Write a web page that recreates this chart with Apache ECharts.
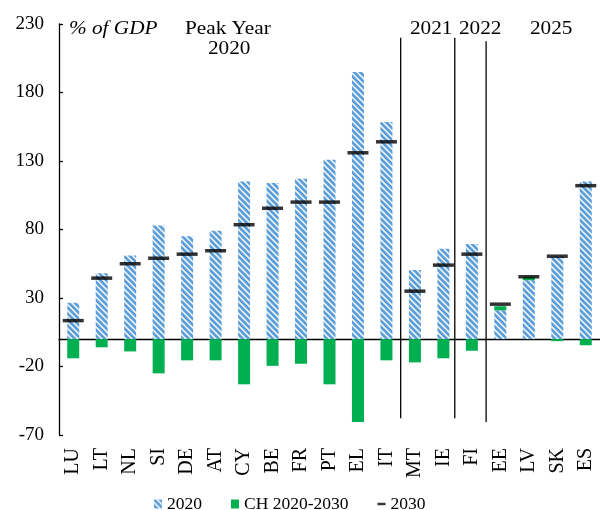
<!DOCTYPE html>
<html>
<head>
  <meta charset="utf-8" />
  <script src="https://cdn.jsdelivr.net/npm/echarts@6/dist/echarts.min.js"></script>
  <style>
    html, body { margin: 0; width: 100%; height: 100%; background: #fff; }
    #chart { width: 600px; height: 510px; }
  </style>
</head>
<body>
<div id="chart"></div>
<script>
  // countries, grouped by peak year
  var countries = ['LU', 'LT', 'NL', 'SI', 'DE', 'AT', 'CY', 'BE', 'FR', 'PT', 'EL', 'IT', 'MT', 'IE', 'FI', 'EE', 'LV', 'SK', 'ES']
  var peak2020 = [26.5, 48, 61, 83, 75, 79, 115, 114, 117, 131, 195, 158.5, 50.5, 66, 69.5, 21, 43, 60.5, 115]
  var change = [-14, -6, -9, -25, -15.5, -15.5, -33, -19.5, -18, -33, -60.5, -15.5, -17, -14, -8.5, 3, 2.5, -1.5, -4.5]
  var y2030 = [13.5, 44.5, 55, 59, 62, 64.5, 83.5, 95.5, 100, 100, 136, 144, 35, 54, 62, 25.5, 45.5, 60.5, 112]
  var yTicks = [-70, -20, 30, 80, 130, 180, 230]

  // vertical separators between peak-year groups (position in category units)
  var divX = [12, 13.9, 15]
  var divTop = [220, 220, 217.5]
  var divBottom = [-57.7, -57.7, -60.6]

  var font = 'Liberation Serif'

  // hatch pattern for the 2020 bars
  var cv = document.createElement('canvas')
  cv.width = 6
  cv.height = 6
  var g = cv.getContext('2d')
  g.fillStyle = '#fff'
  g.fillRect(0, 0, 6, 6)
  g.strokeStyle = '#5f9fd8'
  g.lineWidth = 2.8
  for (var k = -1; k <= 1; k++) {
    g.beginPath()
    g.moveTo(k * 6 - 1, -1)
    g.lineTo(k * 6 + 7, 7)
    g.stroke()
  }
  var hatch = { image: cv, repeat: 'repeat' }

  var chart = echarts.init(document.getElementById('chart'))

  var dividerSeries = divX.map(function (x, i) {
    return {
      type: 'line',
      xAxisIndex: 2,
      symbol: 'none',
      silent: true,
      lineStyle: { color: '#000', width: 1.3 },
      data: [[x, divBottom[i]], [x, divTop[i]]]
    }
  })

  function label(text, x, y, italic) {
    return {
      type: 'text', left: x, top: y, scaleX: 1.18,
      style: { text: text, font: (italic ? 'italic ' : '') + '18px "Liberation Serif"', fill: '#000' }
    }
  }

  var option = {
    animation: false,
    grid: { left: 59, top: 24, width: 545, height: 411, containLabel: false },
    textStyle: { fontFamily: font },
    legend: {
      left: 149,
      top: 490,
      itemWidth: 8,
      itemHeight: 9,
      itemGap: 29,
      textStyle: { fontFamily: font, fontSize: 17.5, color: '#000' },
      data: [
        { name: '2020', icon: 'rect' },
        { name: 'CH 2020-2030', icon: 'rect' },
        { name: '2030', icon: 'path://M0,0H10V3H0Z' }
      ]
    },
    xAxis: [
      {
        type: 'category',
        data: countries,
        position: 'bottom',
        axisLine: { show: false, onZero: false },
        axisTick: { show: false },
        axisLabel: { rotate: 90, margin: 13, fontFamily: font, fontSize: 20, color: '#000' }
      },
      {
        type: 'category',
        data: countries,
        position: 'bottom',
        axisLine: { onZero: true, lineStyle: { color: '#000', width: 1.3 } },
        axisTick: { inside: true, length: 5, lineStyle: { color: '#000', width: 1.3 } },
        axisLabel: { show: false }
      },
      {
        type: 'value',
        min: 0,
        max: 19,
        show: false
      }
    ],
    yAxis: {
      type: 'value',
      min: yTicks[0],
      max: yTicks[yTicks.length - 1],
      interval: 50,
      axisLine: { show: true, lineStyle: { color: '#000', width: 1.3 } },
      axisTick: { show: true, inside: true, length: 4, lineStyle: { color: '#000', width: 1.3 } },
      splitLine: { show: false },
      axisLabel: { margin: 15, fontFamily: font, fontSize: 19, color: '#000' }
    },
    series: [
      {
        name: '2020',
        type: 'bar',
        stack: 'a',
        barWidth: 12,
        itemStyle: { color: hatch },
        data: peak2020
      },
      {
        name: 'CH 2020-2030',
        type: 'bar',
        stack: 'a',
        barWidth: 12,
        itemStyle: { color: '#00b050' },
        data: change
      },
      {
        name: '2030',
        type: 'scatter',
        symbol: 'rect',
        symbolSize: [21, 3.5],
        itemStyle: { color: '#000' },
        z: 5,
        data: y2030
      }
    ].concat(dividerSeries),
    graphic: [
      label('% of GDP', 69, 20, true),
      label('Peak Year', 185, 20),
      label('2020', 208, 40),
      label('2021', 410, 20),
      label('2022', 459, 20),
      label('2025', 530, 20)
    ]
  }

  chart.setOption(option)
</script>
</body>
</html>
